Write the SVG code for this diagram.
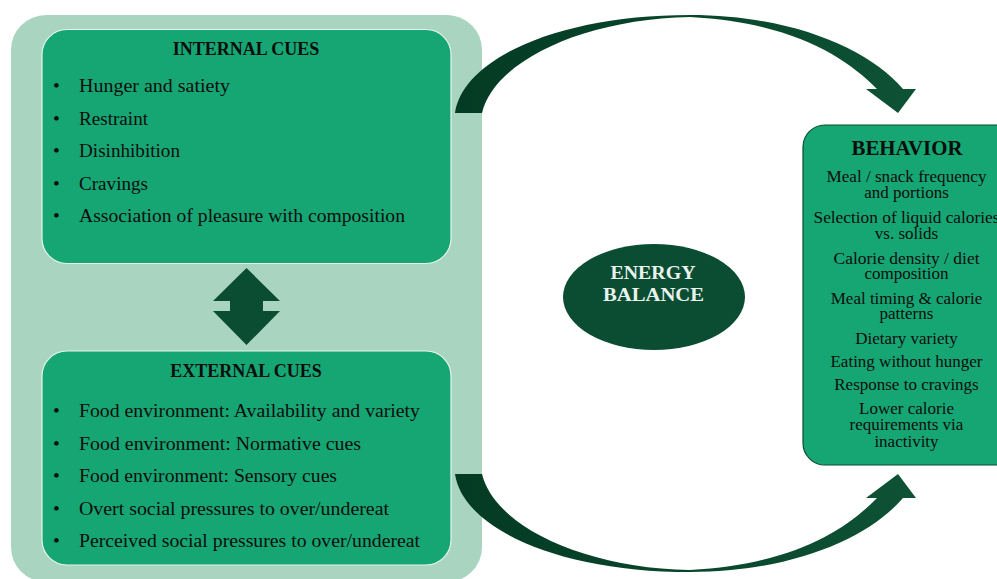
<svg xmlns="http://www.w3.org/2000/svg" width="997" height="579" viewBox="0 0 997 579">
<defs>
<linearGradient id="arrowGrad" x1="0" y1="0" x2="1" y2="0">
<stop offset="0" stop-color="#033a23"/>
<stop offset="1" stop-color="#0e5235"/>
</linearGradient>
<style>
.panel{fill:#a9d4c0}
.box{fill:#16a673;stroke:#e6f4ec;stroke-width:1.2}
.bbox{fill:#16a673;stroke:#0b4d33;stroke-width:1.2}
.title{font-family:"Liberation Serif",serif;font-weight:bold;fill:#0d0d0d}
.item{font-family:"Liberation Serif",serif;font-size:19.5px;fill:#0d0d0d}
.beh{font-family:"Liberation Serif",serif;font-size:17px;fill:#0d0d0d;text-anchor:middle}
.dark{fill:#0b4d33}
.eb{font-family:"Liberation Serif",serif;font-weight:bold;font-size:19.5px;fill:#e9f2ec;text-anchor:middle}
</style>
</defs>
<rect x="0" y="0" width="997" height="579" fill="#ffffff"/>
<rect class="panel" x="11" y="15" width="471" height="567" rx="35" ry="35"/>

<g id="connectors">
<path id="arrow-top" fill="url(#arrowGrad)" d="M455 113 C463 58 560 15 690 15 C790 15 868 48 903 89 L916 89 L898 113 L866 89 L877 89 C845 56 790 22 690 17 C585 19 495 60 482 113 Z"/>
<path id="arrow-bottom" fill="url(#arrowGrad)" transform="translate(0,587) scale(1,-1)" d="M455 113 C463 58 560 15 690 15 C790 15 868 48 903 89 L916 89 L898 113 L866 89 L877 89 C845 56 790 22 690 17 C585 19 495 60 482 113 Z"/>
<path id="arrow-double" class="dark" d="M246.5 268 L280 301 L263 301 L263 311 L280 311 L246.5 345 L213 311 L230 311 L230 301 L213 301 Z"/>
</g>

<g id="internal-cues">
<rect class="box" x="42" y="29.5" width="409" height="234" rx="25" ry="25"/>
<text class="title" x="246" y="55" font-size="18px" text-anchor="middle">INTERNAL CUES</text>
<g class="item">
<text x="53" y="92">•</text><text x="79" y="92" textLength="151" lengthAdjust="spacingAndGlyphs">Hunger and satiety</text>
<text x="53" y="124.5">•</text><text x="79" y="124.5" textLength="69" lengthAdjust="spacingAndGlyphs">Restraint</text>
<text x="53" y="157">•</text><text x="79" y="157" textLength="101" lengthAdjust="spacingAndGlyphs">Disinhibition</text>
<text x="53" y="189.5">•</text><text x="79" y="189.5" textLength="69" lengthAdjust="spacingAndGlyphs">Cravings</text>
<text x="53" y="222">•</text><text x="79" y="222" textLength="326" lengthAdjust="spacingAndGlyphs">Association of pleasure with composition</text>
</g>
</g>

<g id="external-cues">
<rect class="box" x="42" y="351" width="409" height="214" rx="25" ry="25"/>
<text class="title" x="246" y="377" font-size="18px" text-anchor="middle">EXTERNAL CUES</text>
<g class="item">
<text x="53" y="417">•</text><text x="79" y="417" textLength="341" lengthAdjust="spacingAndGlyphs">Food environment: Availability and variety</text>
<text x="53" y="449.5">•</text><text x="79" y="449.5" textLength="282" lengthAdjust="spacingAndGlyphs">Food environment: Normative cues</text>
<text x="53" y="482">•</text><text x="79" y="482" textLength="258" lengthAdjust="spacingAndGlyphs">Food environment: Sensory cues</text>
<text x="53" y="514.5">•</text><text x="79" y="514.5" textLength="310" lengthAdjust="spacingAndGlyphs">Overt social pressures to over/undereat</text>
<text x="53" y="547">•</text><text x="79" y="547" textLength="341" lengthAdjust="spacingAndGlyphs">Perceived social pressures to over/undereat</text>
</g>
</g>

<g id="energy-balance">
<ellipse class="dark" cx="654" cy="297" rx="91" ry="53"/>
<text class="eb" x="653" y="279" textLength="85" lengthAdjust="spacingAndGlyphs">ENERGY</text>
<text class="eb" x="653.5" y="300.5" textLength="101" lengthAdjust="spacingAndGlyphs">BALANCE</text>
</g>

<g id="behavior">
<rect class="bbox" x="803" y="125" width="230" height="340" rx="22" ry="22"/>
<text class="title" x="907" y="155" font-size="21px" text-anchor="middle" textLength="111" lengthAdjust="spacingAndGlyphs">BEHAVIOR</text>
<text class="beh" x="906.5" y="181.5" textLength="160" lengthAdjust="spacingAndGlyphs">Meal / snack frequency</text>
<text class="beh" x="906.5" y="197.5">and portions</text>
<text class="beh" x="906.5" y="222.5" textLength="186" lengthAdjust="spacingAndGlyphs">Selection of liquid calories</text>
<text class="beh" x="906.5" y="238.5">vs. solids</text>
<text class="beh" x="906.5" y="263.5" textLength="146" lengthAdjust="spacingAndGlyphs">Calorie density / diet</text>
<text class="beh" x="906.5" y="278.5">composition</text>
<text class="beh" x="906.5" y="303.5">Meal timing &amp; calorie</text>
<text class="beh" x="906.5" y="318.5">patterns</text>
<text class="beh" x="906.5" y="343.5">Dietary variety</text>
<text class="beh" x="906.5" y="367">Eating without hunger</text>
<text class="beh" x="906.5" y="390">Response to cravings</text>
<text class="beh" x="906.5" y="413.5">Lower calorie</text>
<text class="beh" x="906.5" y="430">requirements via</text>
<text class="beh" x="906.5" y="446.5">inactivity</text>
</g>
</svg>
